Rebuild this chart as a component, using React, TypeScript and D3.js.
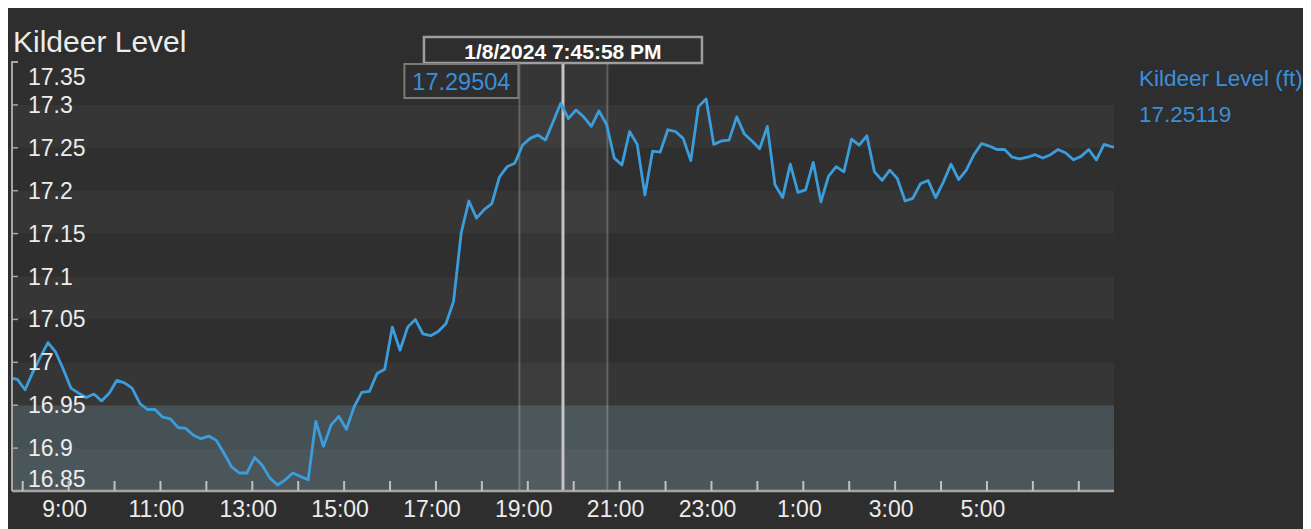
import React, { useEffect } from 'react';
import * as d3 from 'd3';

// chart size (svg sits at the body margin, 8px in)
const W = 1303;
const H = 521;
const M = { left: 4, right: 1106, top: 54, bottom: 483 };
const FONT = '"Liberation Sans", Arial, sans-serif';

const title = 'Kildeer Level';
const seriesName = 'Kildeer Level (ft)';

// sensor readings, one every 10 minutes from 7:43 AM on 1/8/2024
const seriesStart = new Date(2024, 0, 8, 7, 43);
const stepMinutes = 10;
const levels = [
  16.982, 16.98, 16.968, 16.988, 17.006, 17.023, 17.012, 16.992, 16.97, 16.964,
  16.959, 16.963, 16.955, 16.964, 16.979, 16.976, 16.97, 16.952, 16.945, 16.945,
  16.936, 16.934, 16.924, 16.923, 16.915, 16.911, 16.914, 16.909, 16.894, 16.878,
  16.871, 16.871, 16.889, 16.88, 16.865, 16.857, 16.863, 16.871,
  16.867, 16.863, 16.931, 16.902, 16.927, 16.937, 16.922, 16.948, 16.965, 16.966,
  16.987, 16.992, 17.041, 17.014, 17.041, 17.05, 17.033, 17.031, 17.036, 17.045,
  17.071, 17.151, 17.188, 17.168, 17.178, 17.185, 17.216, 17.228, 17.232, 17.253,
  17.261, 17.265, 17.259, 17.28, 17.302,
  17.284, 17.294, 17.286, 17.275, 17.293, 17.277, 17.238, 17.23, 17.269, 17.254,
  17.195, 17.246, 17.245, 17.271, 17.269, 17.261, 17.235, 17.298, 17.307, 17.254,
  17.258, 17.259, 17.286, 17.266, 17.258, 17.249, 17.275, 17.207, 17.192, 17.231,
  17.198, 17.201, 17.233, 17.187, 17.217, 17.228,
  17.222, 17.26, 17.253, 17.264, 17.222, 17.212, 17.224, 17.214, 17.188, 17.191,
  17.208, 17.212, 17.192, 17.21, 17.231, 17.213, 17.224, 17.242, 17.255, 17.252,
  17.248, 17.248, 17.239, 17.237, 17.239, 17.242, 17.238, 17.242, 17.248, 17.244,
  17.236, 17.24, 17.248, 17.236, 17.254, 17.25119, 17.251,
];

const domainStart = new Date(2024, 0, 8, 7, 46);
const domainEnd = new Date(2024, 0, 9, 7, 46);
const yTicks = [16.85, 16.9, 16.95, 17, 17.05, 17.1, 17.15, 17.2, 17.25, 17.3, 17.35];
const xLabelHours = [9, 11, 13, 15, 17, 19, 21, 23, 1, 3, 5];
const alarmTop = 16.95;

const cursorTime = new Date(2024, 0, 8, 19, 45, 58);
const cursorLabel = '1/8/2024 7:45:58 PM';
const cursorValue = '17.29504';
const cursorWindow = [new Date(2024, 0, 8, 18, 49), new Date(2024, 0, 8, 20, 44)];
const latestValue = '17.25119';

const C = {
  bg: '#2e2e2e',
  bandDark: '#2f2f2f',
  bandLight: '#363636',
  alarmDark: '#465156',
  alarmLight: '#4b565b',
  line: '#3b9ddc',
  text: '#ececec',
  blue: '#3a8fd8',
  axis: '#a6a6a6',
};

export default function App() {
  useEffect(() => {
    document.documentElement.style.overflow = 'hidden';
    document.body.style.overflow = 'hidden';
  }, []);

  const x = d3.scaleTime().domain([domainStart, domainEnd]).range([M.left, M.right]);
  const y = d3.scaleLinear().domain([16.85, 17.35]).range([M.bottom, M.top]);

  const data = levels.map((v, i) => ({
    t: new Date(seriesStart.getTime() + i * stepMinutes * 60000),
    v,
  }));
  const line = d3
    .line<{ t: Date; v: number }>()
    .x((d) => x(d.t))
    .y((d) => y(d.v));

  const hourTicks = d3.timeHour.range(d3.timeHour.ceil(domainStart), domainEnd);
  const fmt = d3.timeFormat('%-H:%M');

  const bands = yTicks.slice(0, -1).map((lo, i) => {
    const hi = yTicks[i + 1];
    const alarm = hi <= alarmTop;
    const light = i % 2 === 0;
    const fill = alarm ? (light ? C.alarmLight : C.alarmDark) : light ? C.bandLight : C.bandDark;
    return { lo, hi, fill };
  });

  const cx = x(cursorTime);
  const w0 = x(cursorWindow[0]);
  const w1 = x(cursorWindow[1]);

  return (
    <svg width={W} height={H} style={{ display: 'block', fontFamily: FONT }}>
      <defs>
        <clipPath id="plot">
          <rect x={M.left} y={M.top} width={M.right - M.left} height={M.bottom - M.top} />
        </clipPath>
      </defs>
      <rect width={W} height={H} fill={C.bg} />

      {bands.map((b) => (
        <rect
          key={b.lo}
          x={M.left}
          y={y(b.hi)}
          width={M.right - M.left}
          height={y(b.lo) - y(b.hi)}
          fill={b.fill}
        />
      ))}

      {/* cursor window */}
      <rect x={w0} y={55} width={w1 - w0} height={M.bottom - 55} fill="rgba(255,255,255,0.035)" />
      <line x1={w0} x2={w0} y1={55} y2={M.bottom} stroke="rgba(255,255,255,0.22)" strokeWidth={2} />
      <line x1={w1} x2={w1} y1={55} y2={M.bottom} stroke="rgba(255,255,255,0.22)" strokeWidth={2} />
      <line x1={cx} x2={cx} y1={55} y2={M.bottom} stroke="#c4c4c4" strokeWidth={3} />

      <path
        d={line(data) || ''}
        fill="none"
        stroke={C.line}
        strokeWidth={2.8}
        strokeLinejoin="round"
        clipPath="url(#plot)"
      />

      {/* y axis */}
      <path
        d={`M${M.left + 6},${M.top}H${M.left}V${M.bottom}`}
        fill="none"
        stroke={C.axis}
        strokeWidth={2}
      />
      {yTicks.slice(1, -1).map((t) => (
        <line key={t} x1={M.left} x2={M.left + 6} y1={y(t)} y2={y(t)} stroke={C.axis} strokeWidth={1.5} />
      ))}
      {yTicks.map((t) => {
        const ty = Math.min(Math.max(y(t), M.top + 15), M.bottom - 12);
        return (
          <text
            key={t}
            x={M.left + 16}
            y={ty}
            dy="0.35em"
            fill={C.text}
            fontSize={23}
          >
            {String(t)}
          </text>
        );
      })}

      {/* x axis */}
      <line x1={M.left} x2={M.right} y1={M.bottom} y2={M.bottom} stroke={C.axis} strokeWidth={2.5} />
      {hourTicks.map((t) => (
        <line
          key={t.getTime()}
          x1={x(t)}
          x2={x(t)}
          y1={M.bottom}
          y2={M.bottom - 10}
          stroke="#c0c0c0"
          strokeWidth={2}
        />
      ))}
      {hourTicks
        .filter((t) => xLabelHours.includes(t.getHours()))
        .map((t) => (
          <text
            key={t.getTime()}
            x={x(t) - 4}
            y={509}
            textAnchor="middle"
            fill={C.text}
            fontSize={23}
          >
            {fmt(t)}
          </text>
        ))}

      <text x={5} y={44} fill={C.text} fontSize={30}>
        {title}
      </text>

      {/* tooltip */}
      <rect x={cx - 139} y={29} width={278} height={26} fill={C.bg} stroke="#9e9e9e" strokeWidth={2.5} />
      <text x={cx} y={51} textAnchor="middle" fill="#ffffff" fontSize={21} fontWeight="bold">
        {cursorLabel}
      </text>
      <rect x={w0 - 115} y={56} width={114} height={34} fill={C.bg} stroke="#7a7a7a" strokeWidth={2} />
      <text x={w0 - 58} y={82} textAnchor="middle" fill={C.blue} fontSize={23.5}>
        {cursorValue}
      </text>

      {/* legend */}
      <text x={1131} y={78} fill={C.blue} fontSize={22.5}>
        {seriesName}
      </text>
      <text x={1131} y={114} fill={C.blue} fontSize={22.5}>
        {latestValue}
      </text>
    </svg>
  );
}
